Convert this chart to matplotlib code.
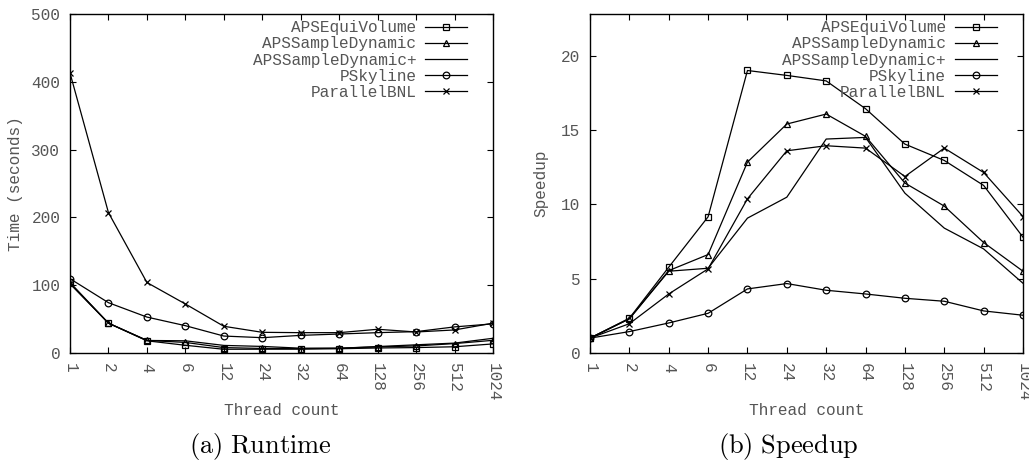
import matplotlib
matplotlib.use('Agg')
import matplotlib.pyplot as plt
import numpy as np

plt.rcParams['font.family'] = ['Liberation Mono', 'DejaVu Sans Mono']
plt.rcParams['mathtext.fontset'] = 'cm'

threads = ['1', '2', '4', '6', '12', '24', '32', '64', '128', '256', '512', '1024']
series = ['APSEquiVolume', 'APSSampleDynamic', 'APSSampleDynamic+', 'PSkyline', 'ParallelBNL']
markers = ['s', '^', None, 'o', 'x']

# Runtime (seconds)
rt_equi = [104, 44, 18, 11.4, 5.5, 5.6, 5.7, 6.3, 7.4, 8.0, 9.2, 13.4]
rt_sdyn = [103, 44, 18.6, 15.6, 8.0, 6.7, 6.4, 7.1, 9.0, 10.4, 13.9, 18.7]
rt_sdynp = [102, 44, 18.5, 18.0, 11.2, 9.7, 7.1, 7.0, 9.5, 12.1, 14.6, 21.7]
rt_psky = [109.6, 74.2, 53, 40.3, 25, 22.6, 26, 28, 30, 31.5, 38.5, 43]
rt_bnl = [413, 207, 104, 72.3, 39.4, 30.5, 30, 30, 35, 31, 34, 44]

# Speedup
sp_equi = [1, 2.34, 5.77, 9.16, 19.0, 18.67, 18.3, 16.43, 14.05, 12.95, 11.27, 7.79]
sp_sdyn = [1, 2.3, 5.54, 6.62, 12.84, 15.4, 16.07, 14.57, 11.43, 9.88, 7.43, 5.5]
sp_sdynp = [1, 2.3, 5.5, 5.7, 9.07, 10.48, 14.39, 14.5, 10.75, 8.4, 7.0, 4.69]
sp_psky = [1, 1.44, 2.02, 2.67, 4.31, 4.67, 4.22, 3.97, 3.68, 3.48, 2.83, 2.54]
sp_bnl = [1, 1.97, 3.97, 5.66, 10.37, 13.6, 13.94, 13.78, 11.87, 13.78, 12.14, 9.18]

runtime = [rt_equi, rt_sdyn, rt_sdynp, rt_psky, rt_bnl]
speedup = [sp_equi, sp_sdyn, sp_sdynp, sp_psky, sp_bnl]

W, H = 1029, 461
fig = plt.figure(figsize=(W / 100, H / 100), dpi=100)
txt = '#555555'
fs = 11.6


def panel(rect, data, yticks, ylim, ylabel, ylabelpad):
    x0, y0, x1, y1 = rect
    ax = fig.add_axes([x0 / W, 1 - y1 / H, (x1 - x0) / W, (y1 - y0) / H])
    xs = np.arange(len(threads))
    for vals, name, m in zip(data, series, markers):
        ax.plot(xs, vals, color='black', lw=0.9, marker=m, markersize=4.8,
                markerfacecolor='none', markeredgecolor='black',
                markeredgewidth=0.9, label=name)
    ax.set_xlim(0, len(threads) - 1)
    ax.set_ylim(*ylim)
    ax.set_xticks(xs)
    ax.set_xticklabels(threads, rotation=-90, color=txt, fontsize=fs)
    ax.set_yticks(yticks)
    ax.set_yticklabels([str(t) for t in yticks], color=txt, fontsize=fs)
    ax.tick_params(direction='in', length=4, width=0.8, top=True, right=True, pad=7)
    for s in ax.spines.values():
        s.set_linewidth(1.0)
    ax.set_xlabel('Thread count', color=txt, fontsize=fs, labelpad=1)
    ax.set_ylabel(ylabel, color=txt, fontsize=fs, labelpad=ylabelpad)
    leg = ax.legend(loc='upper right', bbox_to_anchor=(0.958, 1.005), frameon=False,
                    markerfirst=False, fontsize=fs, handlelength=2.6,
                    labelspacing=0.07, handletextpad=0.55, borderaxespad=0.1,
                    alignment='right')
    for t in leg.get_texts():
        t.set_color(txt)
        t.set_ha('right')
    return ax


axl = panel((70, 14, 493, 353), runtime, [0, 100, 200, 300, 400, 500], (0, 500),
            'Time (seconds)', 6)
axr = panel((590, 14, 1023, 353), speedup, [0, 5, 10, 15, 20], (0, 22.8), 'Speedup', 9)

fig.text(260 / W, 1 - 446 / H, r'$\mathrm{(a)\ Runtime}$', ha='center', va='center', fontsize=19)
fig.text(788 / W, 1 - 446 / H, r'$\mathrm{(b)\ Speedup}$', ha='center', va='center', fontsize=19)

fig.savefig('out.png', dpi=100, facecolor='white')
